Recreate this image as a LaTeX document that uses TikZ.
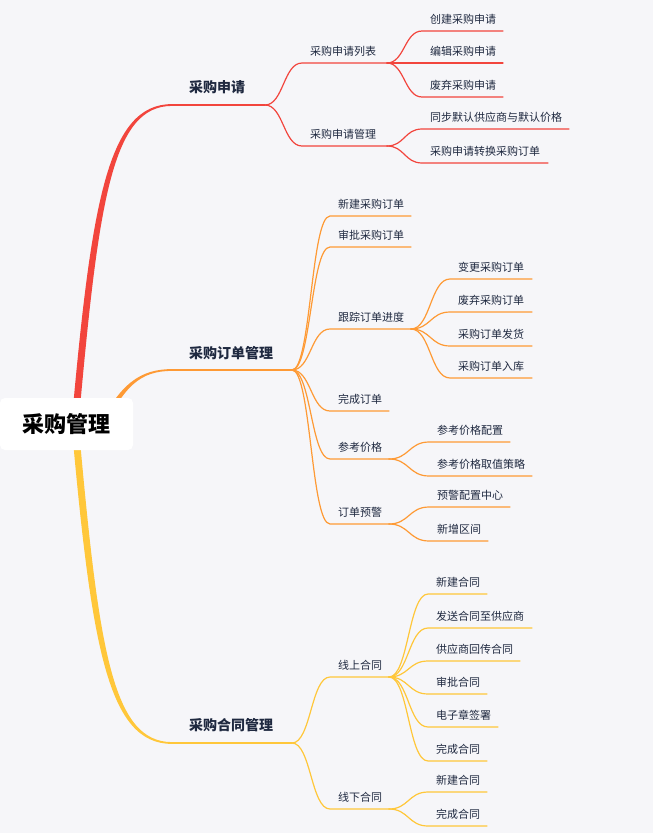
\documentclass[tikz,border=0pt]{standalone}
\usepackage{fontspec}
\newfontfamily\cjk{Noto Sans CJK SC}
\usetikzlibrary{calc}
\definecolor{bg}{HTML}{F6F6F9}
\definecolor{txt}{HTML}{1F2940}
\definecolor{cred}{HTML}{F2453D}
\definecolor{cora}{HTML}{FE9A35}
\definecolor{cyel}{HTML}{FFC73A}
\newcommand\mmkid[7]{%
  \coordinate (#1-s) at (#3,#5);
  \coordinate (#1-e) at (#4,#5);
  \draw[link=#2] let \p1=(#7-e), \p2=(#1-s) in (#7-e) .. controls ({(\x1+\x2)/2},\y1) and ({(\x1+\x2)/2},\y2) .. (#1-s) -- (#1-e);
  \node[leaf] (#1) at ({#3+8},{#5-12}) {#6};
}
\begin{document}
\begin{tikzpicture}[x=1pt,y=-1pt,
  leaf/.style={inner sep=0pt, anchor=west, font=\cjk\fontsize{11}{13}\selectfont, text=txt},
  topic/.style={inner sep=0pt, anchor=west, font=\cjk\bfseries\fontsize{14}{16}\selectfont, text=txt},
  rootnode/.style={fill=white, rounded corners=5pt, minimum width=133pt, minimum height=52pt, inner sep=0pt, font=\cjk\bfseries\fontsize{22}{24}\selectfont, text=black},
  link/.style={line width=1.2pt, draw=#1, line cap=round},
  toplink/.style={line width=1.8pt, draw=#1, line cap=round}]
\useasboundingbox (0,0) rectangle (653,833);
\fill[bg] (0,0) rectangle (653,833);
% main tapered branches
\fill[cred] (71.5,424) .. controls (91.5,200) and (108,104.1) .. (172,104.1) -- (172,105.9) .. controls (112,105.9) and (98.5,200) .. (78.5,424) -- cycle;
\fill[cyel] (71.5,424) .. controls (91.5,648) and (108,743.9) .. (172,743.9) -- (172,742.1) .. controls (112,742.1) and (98.5,648) .. (78.5,424) -- cycle;
\fill[cora] (97.75,428.9) .. controls (119.75,383.9) and (140,369.1) .. (172,369.1) -- (172,370.9) .. controls (140,370.9) and (124.25,386.1) .. (102.25,431.1) -- cycle;
% root
\node[rootnode] (root) at (66.5,424) {采购管理};
% level 1
\coordinate (A-s) at (172,105); \coordinate (A-e) at (265,105);
\coordinate (B-s) at (172,370); \coordinate (B-e) at (292,370);
\coordinate (C-s) at (172,743); \coordinate (C-e) at (292,743);
\draw[toplink=cred] (A-s) -- (A-e);
\draw[toplink=cora] (B-s) -- (B-e);
\draw[toplink=cyel] (C-s) -- (C-e);
\node[topic] (A) at (189,87) {采购申请};
\node[topic] (B) at (189,353) {采购订单管理};
\node[topic] (C) at (189,725) {采购合同管理};
% 采购申请
\mmkid{Aa}{cred}{302}{387}{63}{采购申请列表}{A}
\mmkid{Ab}{cred}{302}{387}{146}{采购申请管理}{A}
\mmkid{Aaa}{cred}{422}{503}{31}{创建采购申请}{Aa}
\mmkid{Aab}{cred}{422}{503}{63}{编辑采购申请}{Aa}
\mmkid{Aac}{cred}{422}{503}{97}{废弃采购申请}{Aa}
\mmkid{Aba}{cred}{422}{569}{129}{同步默认供应商与默认价格}{Ab}
\mmkid{Abb}{cred}{422}{548}{163}{采购申请转换采购订单}{Ab}
% 采购订单管理
\mmkid{Ba}{cora}{330}{411}{216}{新建采购订单}{B}
\mmkid{Bb}{cora}{330}{411}{247}{审批采购订单}{B}
\mmkid{Bc}{cora}{330}{411}{329}{跟踪订单进度}{B}
\mmkid{Bd}{cora}{330}{389}{411}{完成订单}{B}
\mmkid{Be}{cora}{330}{389}{459}{参考价格}{B}
\mmkid{Bf}{cora}{330}{389}{524}{订单预警}{B}
\mmkid{Bca}{cora}{450}{532}{279}{变更采购订单}{Bc}
\mmkid{Bcb}{cora}{450}{532}{312}{废弃采购订单}{Bc}
\mmkid{Bcc}{cora}{450}{532}{346}{采购订单发货}{Bc}
\mmkid{Bcd}{cora}{450}{532}{378}{采购订单入库}{Bc}
\mmkid{Bea}{cora}{429}{510}{442}{参考价格配置}{Be}
\mmkid{Beb}{cora}{429}{532}{476}{参考价格取值策略}{Be}
\mmkid{Bfa}{cora}{429}{510}{507}{预警配置中心}{Bf}
\mmkid{Bfb}{cora}{429}{488}{541}{新增区间}{Bf}
% 采购合同管理
\mmkid{Ca}{cyel}{330}{389}{677}{线上合同}{C}
\mmkid{Cb}{cyel}{330}{389}{809}{线下合同}{C}
\mmkid{Caa}{cyel}{428}{487}{594}{新建合同}{Ca}
\mmkid{Cab}{cyel}{428}{532}{628}{发送合同至供应商}{Ca}
\mmkid{Cac}{cyel}{428}{520}{661}{供应商回传合同}{Ca}
\mmkid{Cad}{cyel}{428}{487}{694}{审批合同}{Ca}
\mmkid{Cae}{cyel}{428}{498}{727}{电子章签署}{Ca}
\mmkid{Caf}{cyel}{428}{487}{761}{完成合同}{Ca}
\mmkid{Cba}{cyel}{428}{487}{792}{新建合同}{Cb}
\mmkid{Cbb}{cyel}{428}{487}{826}{完成合同}{Cb}
\end{tikzpicture}
\end{document}
